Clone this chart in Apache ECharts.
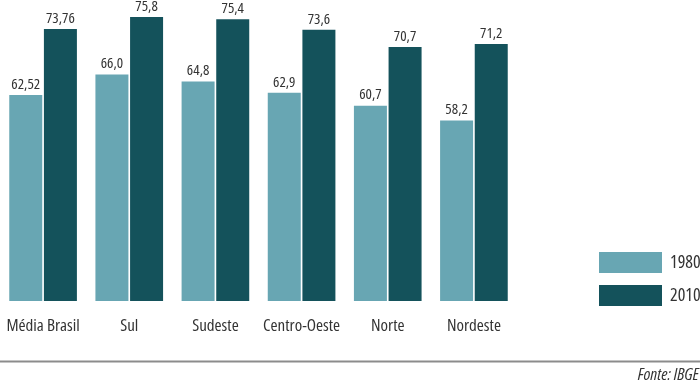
<!DOCTYPE html>
<html>
<head>
<meta charset="utf-8">
<script src="https://cdn.jsdelivr.net/npm/echarts@6/dist/echarts.min.js"></script>
<style>
html,body{margin:0;padding:0;background:#fff;}
#c{width:700px;height:382px;}
</style>
</head>
<body>
<div id="c"></div>
<script>
var categories = ['Média Brasil', 'Sul', 'Sudeste', 'Centro-Oeste', 'Norte', 'Nordeste'];
var values1980 = [62.52, 66.0, 64.8, 62.9, 60.7, 58.2];
var values2010 = [73.76, 75.8, 75.4, 73.6, 70.7, 71.2];
var labels1980 = ['62,52', '66,0', '64,8', '62,9', '60,7', '58,2'];
var labels2010 = ['73,76', '75,8', '75,4', '73,6', '70,7', '71,2'];
var seriesNames = ['1980', '2010'];

var FONT = '"Open Sans", Roboto, sans-serif';
var STRETCH = 'condensed';
var TEXT = '#333333';

var chart = echarts.init(document.getElementById('c'), null, {renderer: 'canvas'});
function mkLabel(arr) {
  return {
    show: true, position: 'top', distance: 3,
    fontFamily: FONT, fontWeight: STRETCH, fontSize: 15, color: TEXT,
    formatter: function (p) { return arr[p.dataIndex]; }
  };
}
chart.setOption({
  animation: false,
  backgroundColor: '#ffffff',
  grid: {left: -3, width: 520, top: 1, bottom: 81, containLabel: false},
  xAxis: {
    type: 'category', data: categories,
    axisLine: {show: false}, axisTick: {show: false},
    axisLabel: {fontFamily: FONT, fontWeight: STRETCH, fontSize: 17, color: TEXT, margin: 17, interval: 0}
  },
  yAxis: {type: 'value', min: 27.5, max: 78.5, show: false, splitLine: {show: false}},
  legend: {
    orient: 'vertical', left: 594, top: 247,
    itemWidth: 63, itemHeight: 21, itemGap: 12,
    icon: 'rect',
    data: seriesNames,
    textStyle: {fontFamily: FONT, fontWeight: STRETCH, fontSize: 18, color: TEXT, padding: [0, 0, 0, 3]}
  },
  series: [
    {name: seriesNames[0], type: 'bar', data: values1980, barWidth: 33, barGap: '5%',
     itemStyle: {color: '#68a6b3'}, label: mkLabel(labels1980)},
    {name: seriesNames[1], type: 'bar', data: values2010, barWidth: 33, barGap: '5%',
     itemStyle: {color: '#14525b'}, label: mkLabel(labels2010)}
  ],
  graphic: [
    {type: 'line', shape: {x1: 0, y1: 361.5, x2: 700, y2: 361.5},
     style: {stroke: '#8c8c8c', lineWidth: 2}},
    {type: 'text', right: 1, top: 367,
     style: {text: 'Fonte: IBGE', fontFamily: FONT, fontStyle: 'italic', fontWeight: STRETCH, fontSize: 17, fill: TEXT}}
  ]
});
</script>
</body>
</html>
